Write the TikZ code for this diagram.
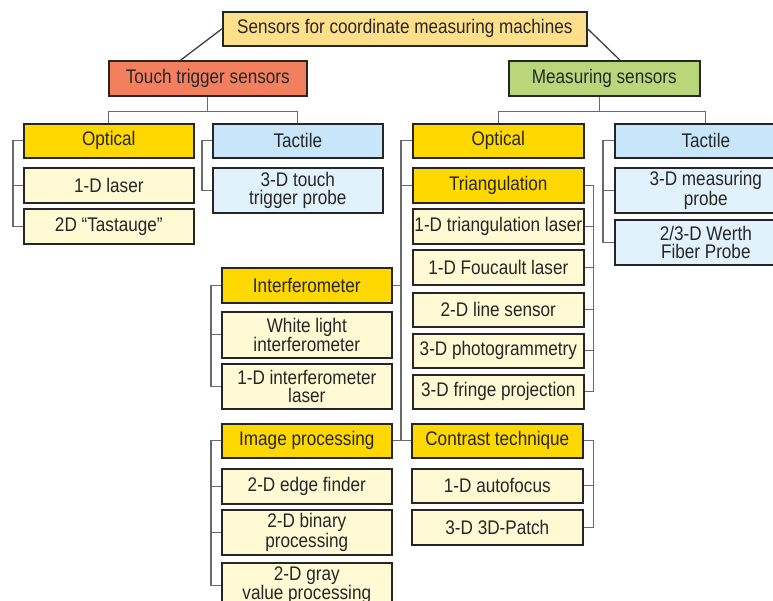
\documentclass[tikz,border=0pt]{standalone}
\usepackage{fontspec}
\setmainfont{Liberation Sans}[FakeStretch=0.87]
\definecolor{boxline}{HTML}{262626}
\definecolor{conn}{HTML}{6A6A6A}
\definecolor{txt}{HTML}{262626}
\definecolor{rootc}{HTML}{FFE08A}
\definecolor{touchc}{HTML}{F2805F}
\definecolor{measc}{HTML}{B9D77A}
\definecolor{goldc}{HTML}{FFD800}
\definecolor{itemc}{HTML}{FFF9D4}
\definecolor{tachc}{HTML}{C7E6F9}
\definecolor{taic}{HTML}{E2F2FC}
\tikzset{
  box/.style={draw=boxline, line width=1.6pt, inner sep=1pt, align=center,
    anchor=north west, text=txt, font=\fontsize{19.7}{18}\selectfont},
  gold/.style={box, fill=goldc},
  item/.style={box, fill=itemc},
  tach/.style={box, fill=tachc},
  tai/.style={box, fill=taic},
  cn/.style={draw=conn, line width=1.3pt},
  cnd/.style={draw=black!75, line width=1.3pt},
}
\begin{document}
\begin{tikzpicture}[x=1pt,y=-1pt]
\useasboundingbox (0,0) rectangle (773,600);
\clip (0,0) rectangle (773,600);
% top
\node[box, fill=rootc, minimum width=364pt, minimum height=34pt] (root) at (222,11) {Sensors for coordinate measuring machines};
\node[box, fill=touchc, minimum width=198pt, minimum height=35pt] (touch) at (108,60) {Touch trigger sensors};
\node[box, fill=measc, minimum width=191pt, minimum height=35pt] (meas) at (508,60) {Measuring sensors};
% touch trigger branch
\node[gold, minimum width=170pt, minimum height=34pt] (opt1) at (23,123) {Optical};
\node[item, minimum width=170pt, minimum height=35pt] (laser1) at (23,167) {1-D laser};
\node[item, minimum width=170pt, minimum height=35pt] (tast) at (23,208) {2D “Tastauge”};
\node[tach, minimum width=170pt, minimum height=34pt] (tac1) at (212,123) {Tactile};
\node[tai, minimum width=170pt, minimum height=45pt] (ttp) at (212,167) {3-D touch\\trigger probe};
% measuring branch
\node[gold, minimum width=171pt, minimum height=34pt] (opt2) at (412,123) {Optical};
\node[tach, minimum width=182pt, minimum height=34pt] (tac2) at (614,123) {Tactile};
\node[tai, minimum width=182pt, minimum height=45pt] (mprobe) at (614,167) {3-D measuring\\probe};
\node[tai, minimum width=182pt, minimum height=45pt] (werth) at (614,219) {2/3-D Werth\\Fiber Probe};
\node[gold, minimum width=171pt, minimum height=35pt] (tri) at (412,167) {Triangulation};
\node[item, minimum width=171pt, minimum height=35pt] (tri1) at (412,208) {1-D triangulation laser};
\node[item, minimum width=171pt, minimum height=35pt] (fouc) at (412,249) {1-D Foucault laser};
\node[item, minimum width=171pt, minimum height=34pt] (line2) at (412,292) {2-D line sensor};
\node[item, minimum width=171pt, minimum height=34pt] (photo) at (412,333) {3-D photogrammetry};
\node[item, minimum width=171pt, minimum height=34pt] (fringe) at (412,374) {3-D fringe projection};
\node[gold, minimum width=170pt, minimum height=35pt] (interf) at (221,267) {Interferometer};
\node[item, minimum width=170pt, minimum height=46pt] (white) at (221,311) {White light\\interferometer};
\node[item, minimum width=170pt, minimum height=45pt] (int1) at (221,363) {1-D interferometer\\laser};
\node[gold, minimum width=170pt, minimum height=34pt] (img) at (221,423) {Image processing};
\node[item, minimum width=170pt, minimum height=35pt] (edge) at (221,468) {2-D edge finder};
\node[item, minimum width=170pt, minimum height=45pt] (binary) at (221,509) {2-D binary\\processing};
\node[item, minimum width=170pt, minimum height=45pt] (gray) at (221,562) {2-D gray\\value processing};
\node[gold, minimum width=171pt, minimum height=34pt] (contrast) at (411,423) {Contrast technique};
\node[item, minimum width=171pt, minimum height=34pt] (autof) at (411,468) {1-D autofocus};
\node[item, minimum width=171pt, minimum height=35pt] (patch) at (411,509) {3-D 3D-Patch};
% connectors
\draw[cnd] (root.west) -- ([xshift=-27pt]touch.north);
\draw[cnd] (root.east) -- ([xshift=15.5pt]meas.north);
\draw[cn] (touch.south) -- ++(0,15) coordinate (tj);
\draw[cn] (opt1.north) |- (tj) -| (tac1.north);
\draw[cn] ([xshift=-4.5pt]meas.south) -- ++(0,15) coordinate (mj);
\draw[cn] (opt2.north) |- (mj) -| (tac2.north);
% left optical bracket
\draw[cn] (opt1.west) -- ++(-10,0) |- (tast.west);
\draw[cn] (laser1.west) -- ++(-10,0);
% left tactile bracket
\draw[cn] (tac1.west) -- ++(-10,0) |- (ttp.west);
% right tactile bracket
\draw[cn] (tac2.west) -- ++(-11,0) |- (werth.west);
\draw[cn] (mprobe.west) -- ++(-11,0);
% optical spine
\draw[cn] (opt2.west) -- ++(-11,0) coordinate (sp) |- (contrast.west);
\draw[cn] (tri.west) -- ++(-11,0);
\draw[cn] (interf.east) -- (interf.east -| sp);
\draw[cn] (img.east) -- (contrast.west);
% triangulation bracket
\draw[cn] (tri.east) -- ++(9,0) |- (fringe.east);
\foreach \n in {tri1,fouc,line2,photo} \draw[cn] (\n.east) -- ++(9,0);
% interferometer bracket
\draw[cn] (interf.west) -- ++(-10,0) |- (int1.west);
\draw[cn] (white.west) -- ++(-10,0);
% image processing bracket
\draw[cn] (img.west) -- ++(-10,0) |- (gray.west);
\foreach \n in {edge,binary} \draw[cn] (\n.west) -- ++(-10,0);
% contrast bracket
\draw[cn] (contrast.east) -- ++(10,0) |- (patch.east);
\draw[cn] (autof.east) -- ++(10,0);
\end{tikzpicture}
\end{document}
